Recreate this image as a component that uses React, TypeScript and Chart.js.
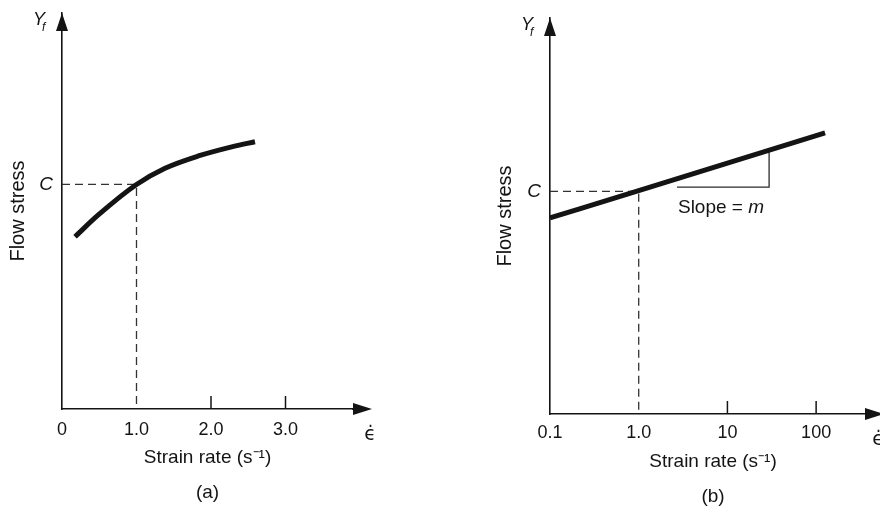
import React, { useEffect, useRef } from 'react';
import { Chart, registerables } from 'chart.js';

Chart.register(...registerables);

// ---------- Data: panel (a) linear strain-rate axis ----------
const strainA = [0.175, 0.487, 1.0, 1.383, 1.83, 2.278, 2.59];
const stressA = [4.35, 4.9, 5.67, 6.08, 6.39, 6.62, 6.75];
const cA = 5.67;
const tickValuesA = [0, 1, 2, 3];
const tickLabelsA = ['0', '1.0', '2.0', '3.0'];
const innerTicksA = [2, 3];

// ---------- Data: panel (b) logarithmic strain-rate axis ----------
const strainB = [0.1, 1.0, 126];
const stressB = [4.95, 5.64, 7.1];
const cB = 5.62;
const tickValuesB = [0.1, 1, 10, 100];
const tickLabelsB = ['0.1', '1.0', '10', '100'];
const innerTicksB = [10, 100];
const slopeX = [2.7, 29.5, 29.5];
const slopeY = [5.73, 5.73, 6.62];

const INK = '#141414';
const DASH = '#333333';
const FONT = '"Liberation Sans", Arial, Helvetica, sans-serif';

Chart.defaults.font.family = FONT;
Chart.defaults.color = INK;

type PanelOpts = {
  id: string;
  xType: 'linear' | 'logarithmic';
  xMin: number;
  xMax: number;
  tickValues: number[];
  tickLabels: string[];
  innerTicks: number[];
  strain: number[];
  stress: number[];
  c: number;
  tag: string;
  padLeft: number;
  axisX: number;
  padTop: number;
  padRight: number;
  xScaleHeight: number;
  tickPad: number;
  titlePadBottom: number;
  xTip: number;
  epsDx: number;
  slope?: boolean;
};

function decorPlugin(p: PanelOpts) {
  return {
    id: 'decor_' + p.id,
    afterDraw(chart: any) {
      const { ctx, chartArea: a, scales } = chart;
      const xs = scales.x;
      const ys = scales.y;
      ctx.save();
      ctx.fillStyle = INK;
      ctx.strokeStyle = INK;
      const ax = a.left;
      const ay = a.bottom;
      // y arrow head
      ctx.beginPath();
      ctx.moveTo(ax, a.top);
      ctx.lineTo(ax - 6, a.top + 18);
      ctx.lineTo(ax + 6, a.top + 18);
      ctx.closePath();
      ctx.fill();
      // x axis extension + arrow head
      const tip = a.right + p.xTip;
      ctx.lineWidth = 1.6;
      ctx.beginPath();
      ctx.moveTo(a.right - 1, ay);
      ctx.lineTo(tip - 17, ay);
      ctx.stroke();
      ctx.beginPath();
      ctx.moveTo(tip, ay);
      ctx.lineTo(tip - 19, ay - 6);
      ctx.lineTo(tip - 19, ay + 6);
      ctx.closePath();
      ctx.fill();
      // inward tick marks
      ctx.lineWidth = 1.5;
      p.innerTicks.forEach((v) => {
        const px = xs.getPixelForValue(v);
        ctx.beginPath();
        ctx.moveTo(px, ay);
        ctx.lineTo(px, ay - 13);
        ctx.stroke();
      });
      // Y_f label
      ctx.textAlign = 'left';
      ctx.textBaseline = 'alphabetic';
      ctx.font = 'italic 18px ' + FONT;
      ctx.fillText('Y', ax - 29, a.top + 12);
      ctx.font = 'italic 12px ' + FONT;
      ctx.fillText('f', ax - 20, a.top + 18);
      // strain-rate symbol
      ctx.textAlign = 'center';
      ctx.font = '19px "DejaVu Sans", sans-serif';
      ctx.fillText('\u03F5\u0307', a.right + p.epsDx, ay + 31);
      // slope annotation
      if (p.slope) {
        const lx = xs.getPixelForValue(2.77);
        const ly = ys.getPixelForValue(5.08);
        ctx.textAlign = 'left';
        ctx.font = '19px ' + FONT;
        const t1 = 'Slope = ';
        ctx.fillText(t1, lx, ly);
        const w = ctx.measureText(t1).width;
        ctx.font = 'italic 19px ' + FONT;
        ctx.fillText('m', lx + w, ly);
      }
      ctx.restore();
    },
  };
}

function buildConfig(p: PanelOpts): any {
  const datasets: any[] = [
    {
      data: p.strain.map((x, i) => ({ x, y: p.stress[i] })),
      borderColor: INK,
      borderWidth: 5,
      pointRadius: 0,
      cubicInterpolationMode: 'monotone',
      borderCapStyle: 'butt',
      borderJoinStyle: 'round',
    },
    {
      data: [
        { x: p.xMin, y: p.c },
        { x: 1, y: p.c },
        { x: 1, y: 0 },
      ],
      borderColor: DASH,
      borderWidth: 1.3,
      borderDash: [8, 5],
      pointRadius: 0,
      tension: 0,
    },
  ];
  if (p.slope) {
    datasets.push({
      data: slopeX.map((x, i) => ({ x, y: slopeY[i] })),
      borderColor: '#2a2a2a',
      borderWidth: 1.3,
      pointRadius: 0,
      tension: 0,
    });
  }
  return {
    type: 'line',
    data: { datasets },
    plugins: [decorPlugin(p)],
    options: {
      animation: false,
      responsive: false,
      maintainAspectRatio: false,
      events: [],
      plugins: { legend: { display: false }, tooltip: { enabled: false } },
      layout: { padding: { left: p.padLeft, top: p.padTop, right: p.padRight, bottom: 0 } },
      scales: {
        x: {
          type: p.xType,
          min: p.xMin,
          max: p.xMax,
          grid: { display: false, drawTicks: false },
          border: { display: true, color: INK, width: 1.6 },
          afterBuildTicks: (s: any) => {
            s.ticks = p.tickValues.map((v) => ({ value: v }));
          },
          ticks: {
            autoSkip: false,
            maxRotation: 0,
            minRotation: 0,
            padding: p.tickPad,
            color: INK,
            font: { size: 18 },
            callback: (_v: any, i: number) => p.tickLabels[i],
          },
          title: {
            display: true,
            text: ['Strain rate (s\u207B\u00B9)', p.tag],
            color: INK,
            font: { size: 19, lineHeight: 35 / 19 },
            padding: { top: 0, bottom: p.titlePadBottom },
          },
          afterFit: (s: any) => {
            s.height = p.xScaleHeight;
            s.paddingLeft = 0;
            s.paddingRight = 0;
          },
        },
        y: {
          type: 'linear',
          min: 0,
          max: 10,
          grid: { display: false, drawTicks: false },
          border: { display: true, color: INK, width: 1.6 },
          afterBuildTicks: (s: any) => {
            s.ticks = [{ value: p.c }];
          },
          ticks: {
            padding: 9,
            color: INK,
            font: { size: 19, style: 'italic' },
            callback: () => 'C',
          },
          title: {
            display: true,
            text: 'Flow stress',
            color: INK,
            font: { size: 20 },
            padding: { top: 6, bottom: 0 },
          },
          afterFit: (s: any) => {
            s.width = p.axisX - p.padLeft;
            s.paddingTop = 0;
            s.paddingBottom = 0;
          },
        },
      },
    },
  };
}

const panelA: PanelOpts = {
  id: 'a',
  xType: 'linear',
  xMin: 0,
  xMax: 3.906,
  tickValues: tickValuesA,
  tickLabels: tickLabelsA,
  innerTicks: innerTicksA,
  strain: strainA,
  stress: stressA,
  c: cA,
  tag: '(a)',
  padLeft: 0,
  axisX: 62,
  padTop: 13,
  padRight: 87,
  xScaleHeight: 102,
  tickPad: 10,
  titlePadBottom: 0.5,
  xTip: 19,
  epsDx: 17,
};

const panelB: PanelOpts = {
  id: 'b',
  xType: 'logarithmic',
  xMin: 0.1,
  xMax: 473,
  tickValues: tickValuesB,
  tickLabels: tickLabelsB,
  innerTicks: innerTicksB,
  strain: strainB,
  stress: stressB,
  c: cB,
  tag: '(b)',
  padLeft: 47,
  axisX: 110,
  padTop: 18,
  padRight: 4,
  xScaleHeight: 97,
  tickPad: 8,
  titlePadBottom: -3.5,
  xTip: 8,
  epsDx: 2,
  slope: true,
};

function Panel({ opts }: { opts: PanelOpts }) {
  const ref = useRef<HTMLCanvasElement>(null);
  useEffect(() => {
    const chart = new Chart(ref.current as HTMLCanvasElement, buildConfig(opts));
    return () => chart.destroy();
  }, [opts]);
  return (
    <canvas
      ref={ref}
      width={440}
      height={511}
      style={{ display: 'block', width: 440, height: 511 }}
    />
  );
}

export default function App() {
  return (
    <div
      style={{
        position: 'absolute',
        left: 0,
        top: 0,
        width: 880,
        height: 511,
        display: 'flex',
        background: '#ffffff',
        overflow: 'hidden',
      }}
    >
      <Panel opts={panelA} />
      <Panel opts={panelB} />
    </div>
  );
}
